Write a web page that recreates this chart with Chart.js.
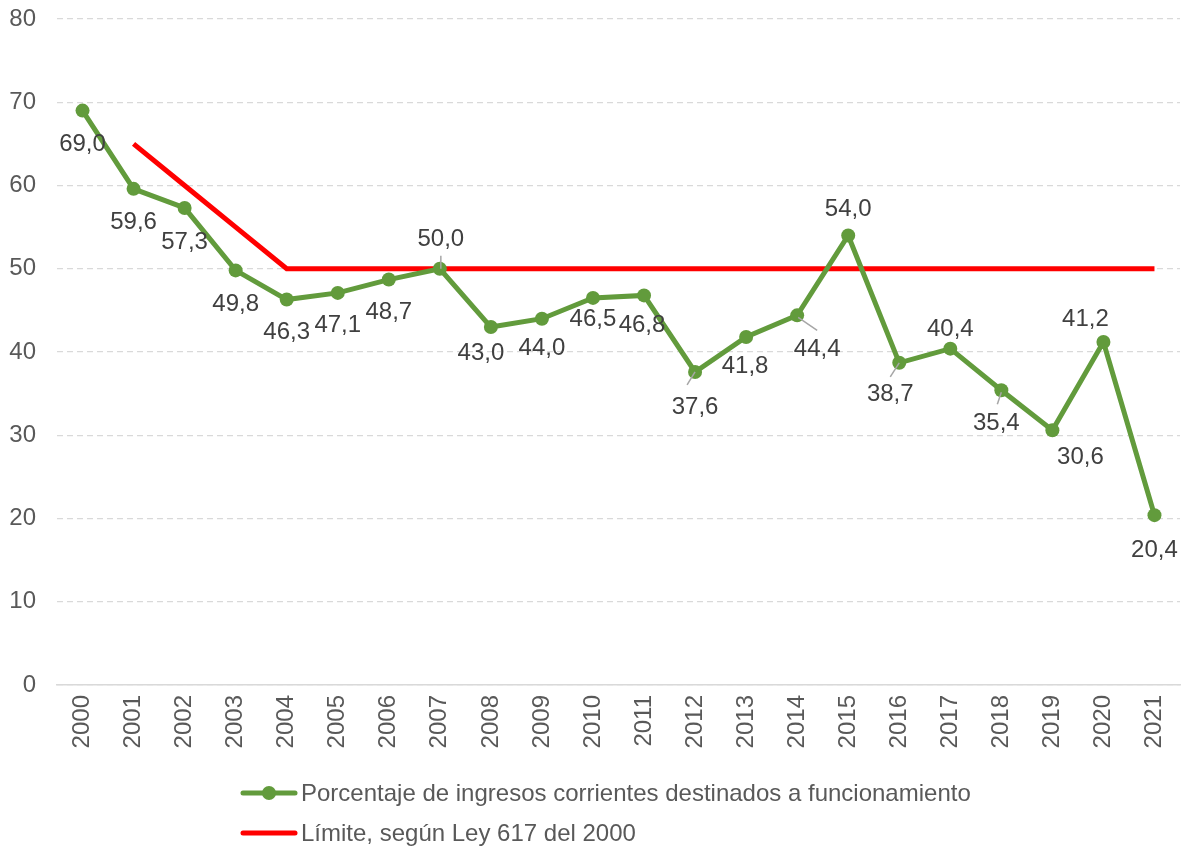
<!DOCTYPE html>
<html>
<head>
<meta charset="utf-8">
<script src="https://cdn.jsdelivr.net/npm/chart.js@4.4.0/dist/chart.umd.min.js"></script>
<style>
  html, body { margin: 0; padding: 0; background: #fff; }
  #wrap { width: 1187px; height: 848px; position: relative; }
</style>
</head>
<body>
<div id="wrap"><canvas id="c" width="1187" height="848"></canvas></div>
<script>
// ---- data ----
const years = ['2000','2001','2002','2003','2004','2005','2006','2007','2008','2009','2010',
               '2011','2012','2013','2014','2015','2016','2017','2018','2019','2020','2021'];
const funcionamiento = [69.0, 59.6, 57.3, 49.8, 46.3, 47.1, 48.7, 50.0, 43.0, 44.0, 46.5,
                        46.8, 37.6, 41.8, 44.4, 54.0, 38.7, 40.4, 35.4, 30.6, 41.2, 20.4];
const limite = [null, 65, 60, 55, 50, 50, 50, 50, 50, 50, 50,
                50, 50, 50, 50, 50, 50, 50, 50, 50, 50, 50];
const seriesNames = ['Porcentaje de ingresos corrientes destinados a funcionamiento',
                     'Límite, según Ley 617 del 2000'];
const yTicks = [0, 10, 20, 30, 40, 50, 60, 70, 80];

// ---- label placement (style only) ----
const labelOffsets = [
  [0,34],[0,34],[0,34],[0,34],[0,33],[0,32],[0,33],[1,-29],[-10,26],[0,30],[0,21],
  [-2,30],[0,35],[-1,29],[20,34],[0,-26],[-9,32],[0,-19],[-5,33],[28,27],[-18,-23],[0,35]
];
// leader lines: [dx1,dy1,dx2,dy2] relative to point
const leaders = {7:[1,-13,1,0], 12:[-8,13,0,0], 14:[1,2,20,15], 16:[-9,14,0,0], 18:[-4,14,0,2]};

const GREEN = '#629b3c';
const RED = '#ff0000';
const FONT = '"Liberation Sans", Arial, sans-serif';
const FS = 24;

const dataLabelPlugin = {
  id: 'dataLabels',
  afterDatasetsDraw(chart) {
    const ctx = chart.ctx;
    const meta = chart.getDatasetMeta(0);
    ctx.save();
    ctx.strokeStyle = '#a6a6a6';
    ctx.lineWidth = 1.5;
    Object.keys(leaders).forEach(k => {
      const p = meta.data[k];
      const l = leaders[k];
      ctx.beginPath();
      ctx.moveTo(p.x + l[0], p.y + l[1]);
      ctx.lineTo(p.x + l[2], p.y + l[3]);
      ctx.stroke();
    });
    ctx.font = FS + 'px ' + FONT;
    ctx.fillStyle = '#404040';
    ctx.textAlign = 'center';
    ctx.textBaseline = 'middle';
    meta.data.forEach((p, i) => {
      const v = chart.data.datasets[0].data[i];
      const txt = v.toFixed(1).replace('.', ',');
      const o = labelOffsets[i];
      ctx.fillText(txt, p.x + o[0], p.y + o[1]);
    });
    ctx.restore();
  }
};

const legendPlugin = {
  id: 'customLegend',
  afterDraw(chart) {
    const ctx = chart.ctx;
    ctx.save();
    const rows = [793, 833];
    chart.data.datasets.forEach((ds, i) => {
      const y = rows[i];
      ctx.strokeStyle = ds.borderColor;
      ctx.lineWidth = 5;
      ctx.lineCap = 'round';
      ctx.beginPath();
      ctx.moveTo(243, y);
      ctx.lineTo(295, y);
      ctx.stroke();
      if (ds.pointRadius > 0) {
        ctx.fillStyle = ds.borderColor;
        ctx.beginPath();
        ctx.arc(269, y, 7, 0, Math.PI * 2);
        ctx.fill();
      }
      ctx.fillStyle = '#595959';
      ctx.font = FS + 'px ' + FONT;
      ctx.textAlign = 'left';
      ctx.textBaseline = 'middle';
      ctx.fillText(ds.label, 301, y + 1);
    });
    ctx.restore();
  }
};

new Chart(document.getElementById('c'), {
  type: 'line',
  data: {
    labels: years,
    datasets: [
      {
        label: seriesNames[0],
        data: funcionamiento,
        borderColor: GREEN,
        backgroundColor: GREEN,
        borderWidth: 5,
        pointRadius: 7,
        pointHoverRadius: 7,
        pointBackgroundColor: GREEN,
        pointBorderWidth: 0,
        tension: 0,
        order: 1
      },
      {
        label: seriesNames[1],
        data: limite,
        borderColor: RED,
        backgroundColor: RED,
        borderWidth: 5,
        pointRadius: 0,
        tension: 0,
        order: 2
      }
    ]
  },
  options: {
    responsive: false,
    animation: false,
    layout: { padding: { top: 19, right: 1, left: 0, bottom: 0 } },
    plugins: {
      legend: { display: false },
      tooltip: { enabled: false }
    },
    scales: {
      x: {
        offset: true,
        grid: { display: false, drawTicks: false },
        border: { display: true, color: '#d9d9d9', width: 1.5 },
        ticks: {
          minRotation: 90, maxRotation: 90, padding: 10,
          color: '#595959',
          font: { family: FONT, size: FS }
        },
        afterFit(scale) {
          scale.height = 163;
          scale.paddingLeft = 0; scale.paddingRight = 0;
          scale.paddingTop = 0; scale.paddingBottom = 0;
        }
      },
      y: {
        min: 0, max: 80,
        afterBuildTicks(scale) { scale.ticks = yTicks.map(v => ({ value: v })); },
        grid: { color: '#d9d9d9', lineWidth: 1.3, drawTicks: false },
        border: { display: false, dash: [6, 4] },
        ticks: {
          padding: 21,
          color: '#595959',
          font: { family: FONT, size: FS }
        },
        afterFit(scale) {
          scale.width = 57;
          scale.paddingTop = 0; scale.paddingBottom = 0;
          scale.paddingLeft = 0; scale.paddingRight = 0;
        }
      }
    }
  },
  plugins: [dataLabelPlugin, legendPlugin]
});
</script>
</body>
</html>
